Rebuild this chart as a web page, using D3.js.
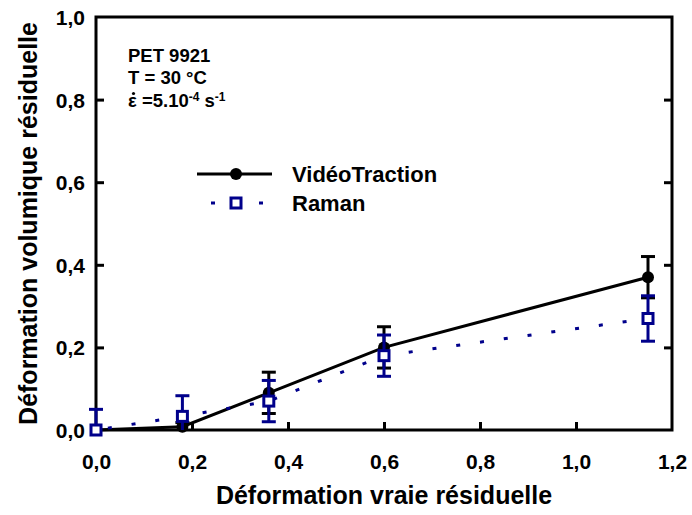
<!DOCTYPE html>
<html><head><meta charset="utf-8">
<script src="https://cdn.jsdelivr.net/npm/d3@7"></script>
<style>body{margin:0;background:#fff}svg{display:block;font-family:"Liberation Sans",Arial,sans-serif;font-weight:bold}</style>
</head><body>
<svg id="c" width="692" height="515"></svg>
<script>
const xTicks = [0, 0.2, 0.4, 0.6, 0.8, 1.0, 1.2];
const yTicks = [0, 0.2, 0.4, 0.6, 0.8, 1.0];
const strainX = [0, 0.18, 0.36, 0.6, 1.15];
const videoY = [0, 0.008, 0.09, 0.20, 0.37];
const videoErr = [0, 0.01, 0.05, 0.05, 0.05];
const ramanY = [0, 0.033, 0.07, 0.18, 0.27];
const ramanErr = [0.05, 0.05, 0.05, 0.05, 0.055];
const seriesNames = ["VidéoTraction", "Raman"];
const xTitle = "Déformation vraie résiduelle";
const yTitle = "Déformation volumique résiduelle";
const notes = ["PET 9921", "T = 30 °C"];

const svg = d3.select("#c");
const x = d3.scaleLinear().domain([0, 1.2]).range([96, 672]);
const y = d3.scaleLinear().domain([0, 1.0]).range([430, 17]);
const fmt = d => d3.format(".1f")(d).replace(".", ",");
const navy = "#00008b";
const FF = '"Liberation Sans",Arial,sans-serif';

// frame
svg.append("rect").attr("x", x(0)).attr("y", y(1)).attr("width", x(1.2) - x(0)).attr("height", y(0) - y(1))
  .attr("fill", "none").attr("stroke", "#000").attr("stroke-width", 3);

// axes with inward ticks
const xa = svg.append("g").attr("transform", `translate(0,${y(0)})`)
  .call(d3.axisBottom(x).tickValues(xTicks).tickSize(-8).tickFormat(fmt));
const ya = svg.append("g").attr("transform", `translate(${x(0)},0)`)
  .call(d3.axisLeft(y).tickValues(yTicks).tickSize(-8).tickFormat(fmt));
const yr = svg.append("g").attr("transform", `translate(${x(1.2)},0)`)
  .call(d3.axisRight(y).tickValues(yTicks.slice(1, -1)).tickSize(-8).tickFormat(""));
[xa, ya, yr].forEach(g => {
  g.select(".domain").remove();
  g.selectAll(".tick line").attr("stroke", "#000").attr("stroke-width", 3);
  g.selectAll("text").attr("font-size", 21).attr("font-weight", "bold").attr("fill", "#000").attr("font-family", FF);
});
xa.selectAll("text").attr("y", 39).attr("dy", 0);
ya.selectAll("text").attr("x", -11).attr("dy", "0.36em");
xa.selectAll(".tick").filter(d => d === 0 || d === 1.2).select("line").remove();
ya.selectAll(".tick").filter(d => d === 0 || d === 1.0).select("line").remove();

// titles
svg.append("text").attr("x", x(0.6)).attr("y", 504).attr("text-anchor", "middle")
  .attr("font-size", 25).text(xTitle);
svg.append("text").attr("transform", `translate(37,${y(0.5)}) rotate(-90)`).attr("text-anchor", "middle")
  .attr("font-size", 25).text(yTitle);

// annotation
const ann = svg.append("g").attr("font-size", 18.5);
notes.forEach((t, i) => ann.append("text").attr("x", 128).attr("y", 62 + i * 22).text(t));
const eps = ann.append("text").attr("x", 128).attr("y", 107);
eps.append("tspan").text("ε =5.10");
eps.append("tspan").attr("dy", -6).attr("font-size", 12).text("-4");
eps.append("tspan").attr("dy", 6).text(" s");
eps.append("tspan").attr("dy", -6).attr("font-size", 12).text("-1");
ann.append("circle").attr("cx", 133.5).attr("cy", 93.5).attr("r", 1.6).attr("fill", "#000");

const vData = strainX.map((d, i) => ({x: d, y: videoY[i], e: videoErr[i]}));
const rData = strainX.map((d, i) => ({x: d, y: ramanY[i], e: ramanErr[i]}));
const line = d3.line().x(d => x(d.x)).y(d => y(d.y));

function errBars(g, data, color) {
  data.filter(d => d.e > 0).forEach(d => {
    const lo = Math.max(0, d.y - d.e), hi = d.y + d.e;
    g.append("line").attr("x1", x(d.x)).attr("x2", x(d.x)).attr("y1", y(lo)).attr("y2", y(hi))
      .attr("stroke", color).attr("stroke-width", 3);
    [d.y - d.e, hi].forEach(v => { if (v >= 0) g.append("line").attr("x1", x(d.x) - 7).attr("x2", x(d.x) + 7)
      .attr("y1", y(v)).attr("y2", y(v)).attr("stroke", color).attr("stroke-width", 3); });
  });
}

const gv = svg.append("g");
gv.append("path").attr("d", line(vData)).attr("fill", "none").attr("stroke", "#000").attr("stroke-width", 3);
errBars(gv, vData, "#000");
gv.selectAll("circle").data(vData).join("circle").attr("cx", d => x(d.x)).attr("cy", d => y(d.y)).attr("r", 6).attr("fill", "#000");

const gr = svg.append("g");
gr.append("path").attr("d", line(rData)).attr("fill", "none").attr("stroke", navy).attr("stroke-width", 3)
  .attr("stroke-dasharray", "4,20").attr("stroke-dashoffset", -12);
errBars(gr, rData, navy);
gr.selectAll("rect").data(rData).join("rect").attr("x", d => x(d.x) - 5).attr("y", d => y(d.y) - 5)
  .attr("width", 10).attr("height", 10).attr("fill", "#fff").attr("stroke", navy).attr("stroke-width", 3);

// legend
const lg = svg.append("g");
lg.append("line").attr("x1", 197).attr("x2", 272).attr("y1", 174).attr("y2", 174).attr("stroke", "#000").attr("stroke-width", 3);
lg.append("circle").attr("cx", 236).attr("cy", 174).attr("r", 6).attr("fill", "#000");
lg.append("text").attr("x", 292).attr("y", 182).attr("font-size", 22).text(seriesNames[0]);
lg.append("line").attr("x1", 211).attr("x2", 267).attr("y1", 203).attr("y2", 203).attr("stroke", navy).attr("stroke-width", 3)
  .attr("stroke-dasharray", "4,20");
lg.append("rect").attr("x", 231).attr("y", 198).attr("width", 10).attr("height", 10).attr("fill", "#fff").attr("stroke", navy).attr("stroke-width", 3);
lg.append("text").attr("x", 292).attr("y", 211).attr("font-size", 22).text(seriesNames[1]);
</script>
</body></html>
